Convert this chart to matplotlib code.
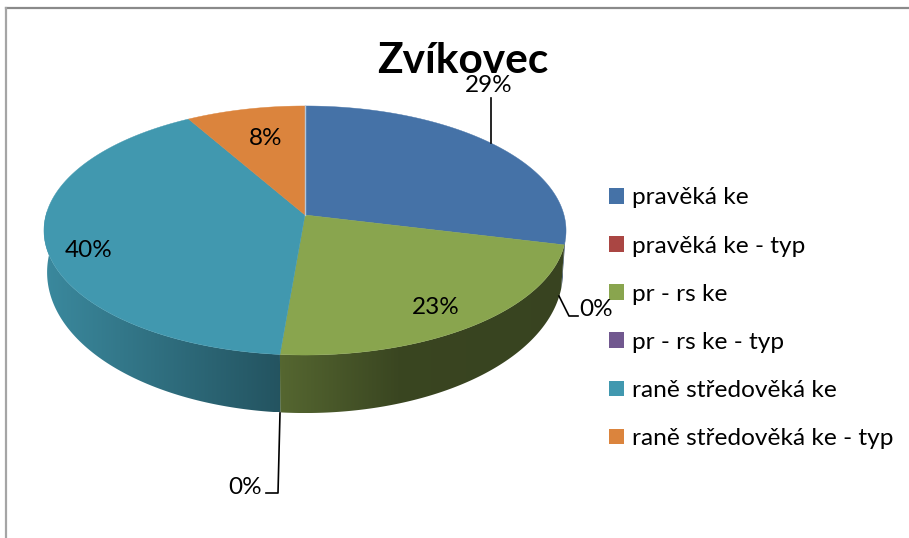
import numpy as np
import matplotlib
matplotlib.use('Agg')
import matplotlib.pyplot as plt
from matplotlib.patches import Patch, Polygon
from matplotlib.colors import to_rgb

categories = ['pravěká ke', 'pravěká ke - typ', 'pr - rs ke', 'pr - rs ke - typ',
              'raně středověká ke', 'raně středověká ke - typ']
values = [28.8, 0, 22.55, 0, 40.35, 8.3]
colors = ['#4572A7', '#AA4643', '#89A54E', '#71588F', '#4198AF', '#DB843D']

# where each percentage label sits, same order as values
label_x = [489, 596, 436, 245, 89, 266]
label_y = [85.5, 310, 307.5, 488, 250.5, 138.5]

# pie geometry in pixels
cx, cy = 305, 215
rx, ry = 259, 122.6
persp = 0.1245
depth = 58
shrink = 0.988


def project(theta):
    # theta is clockwise from the top, degrees
    t = np.radians(theta)
    u, v = np.sin(t), np.cos(t)
    d = 1 + persp * v
    return cx + rx * u / d, cy - ry * v / d


plt.rcParams['font.family'] = ['Lato', 'DejaVu Sans']
fig = plt.figure(figsize=(9.09, 5.38), dpi=100)
ax = fig.add_axes([0, 0, 1, 1])
ax.axis('off')

# frame, only top and left show
ax.plot([5.5, 909], [8, 8], color='#8a8a8a', lw=1.6, zorder=1)
ax.plot([5.5, 5.5], [8, 538], color='#a5a5a5', lw=1.6, zorder=1)

ax.text(463, 61, 'Zvíkovec', fontsize=30.5, fontweight='bold', ha='center', va='center', zorder=6)

bounds = np.cumsum([0] + values) * 3.6

# side of the pie, a horizontal gradient clipped to each slice's rim
for i, v in enumerate(values):
    if v == 0:
        continue
    a0, a1 = max(bounds[i], 97), min(bounds[i + 1], 272)
    if a1 <= a0:
        continue
    th = np.linspace(a0, a1, 200)
    xs, ys = project(th)
    xb = cx + (xs - cx) * shrink
    # the rim looks thinner at the sides than at the front
    yb = ys + depth * (0.68 - 0.32 * np.cos(np.radians(th)))
    outline = np.c_[np.r_[xs, xb[::-1]], np.r_[ys, yb[::-1]]]
    x0, x1 = outline[:, 0].min(), outline[:, 0].max()
    y0, y1 = outline[:, 1].min(), outline[:, 1].max()
    col = np.linspace(x0, x1, 256)
    if i == 2:
        f = np.interp(col, [280, 400, 566], [0.62, 0.42, 0.41])
    else:
        f = np.interp(col, [45, 280], [0.90, 0.55])
    grad = f[None, :, None] * np.array(to_rgb(colors[i]))[None, None, :]
    im = ax.imshow(grad, extent=[x0, x1, y1, y0], aspect='auto', zorder=2, interpolation='bilinear')
    clip = Polygon(outline, transform=ax.transData)
    im.set_clip_path(clip)

# top of the pie
for i, v in enumerate(values):
    if v == 0:
        continue
    xs, ys = project(np.linspace(bounds[i], bounds[i + 1], 200))
    ax.fill(np.r_[cx, xs], np.r_[cy, ys], color=colors[i], lw=0.3, zorder=3)

# thin light seam where the circle starts
x_top, y_top = project(0)
ax.plot([cx, x_top], [cy, y_top], color='#b4c6da', lw=1, zorder=4)

# percentage labels
for v, lx, ly in zip(values, label_x, label_y):
    ax.text(lx, ly, f'{v:.0f}%', fontsize=17.5, ha='center', va='center', color='black', zorder=7)

# leader lines
ax.plot([491, 491], [98, 143], color='black', lw=1.2, zorder=5)
ax.plot([559, 569, 578], [296, 316, 316], color='black', lw=1.2, zorder=5)
ax.plot([280, 278, 266], [413, 493, 493], color='black', lw=1.2, zorder=5)

ax.set_xlim(0, 909)
ax.set_ylim(538, 0)

handles = [Patch(facecolor=c, edgecolor='none') for c in colors]
ax.legend(handles, categories, loc='upper left', bbox_to_anchor=(609, 187.5), bbox_transform=ax.transData,
          frameon=False, fontsize=17.6, handlelength=0.62, handleheight=0.62, handletextpad=0.33,
          labelspacing=1.11, borderpad=0, borderaxespad=0)

fig.savefig('out.png', dpi=100)
